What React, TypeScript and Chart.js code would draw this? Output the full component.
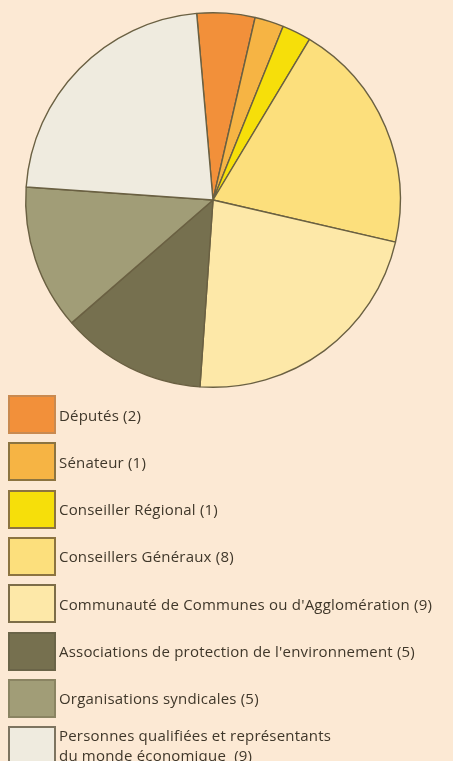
import React, { useEffect, useRef } from "react";
import { Chart, registerables } from "chart.js";

Chart.register(...registerables);

const categories = [
  "Députés (2)",
  "Sénateur (1)",
  "Conseiller Régional (1)",
  "Conseillers Généraux (8)",
  "Communauté de Communes ou d'Agglomération (9)",
  "Associations de protection de l'environnement (5)",
  "Organisations syndicales (5)",
  "Personnes qualifiées et représentants\ndu monde économique  (9)",
];
const seats = [2, 1, 1, 8, 9, 5, 5, 9];
const colors = [
  "#f2903a",
  "#f6b444",
  "#f6df0a",
  "#fcdf7c",
  "#fde8a8",
  "#76704f",
  "#a19d77",
  "#efebdf",
];
const boxBorders = [
  "#c98a50",
  "#8c7440",
  "#8c7440",
  "#8c7440",
  "#7d6d48",
  "#6a6448",
  "#8a8462",
  "#7d7460",
];

const BG = "#fce9d4";

export default function App() {
  const ref = useRef<HTMLCanvasElement | null>(null);
  useEffect(() => {
    document.body.style.margin = "0";
    document.body.style.background = BG;
    const chart = new Chart(ref.current!, {
      type: "pie",
      data: {
        labels: categories,
        datasets: [
          {
            data: seats,
            backgroundColor: colors,
            borderColor: "#6a6042",
            borderWidth: 1.4,
          },
        ],
      },
      options: {
        animation: false,
        responsive: false,
        rotation: -5,
        layout: { padding: { left: 0, right: 27, top: 12, bottom: 12 } },
        plugins: { legend: { display: false }, tooltip: { enabled: false } },
      },
    });
    return () => chart.destroy();
  }, []);

  return (
    <div style={{ position: "relative", width: 453, height: 761, background: BG, overflow: "hidden" }}>
      <canvas ref={ref} width={453} height={400} style={{ position: "absolute", left: 0, top: 0, width: 453, height: 400 }} />
      {categories.map((c, i) => {
        const top = 395 + i * 47.3;
        const lines = c.split("\n");
        return (
          <div key={i}>
            <div
              style={{
                position: "absolute",
                left: 8,
                top,
                width: 44,
                height: 35,
                background: colors[i],
                border: `2px solid ${boxBorders[i]}`,
                boxSizing: "content-box",
              }}
            />
            <div
              style={{
                position: "absolute",
                left: 59,
                top: lines.length > 1 ? top - 1 : top,
                height: lines.length > 1 ? undefined : 39,
                display: "flex",
                flexDirection: "column",
                justifyContent: "center",
                fontFamily: "'Open Sans', sans-serif",
                fontSize: 15,
                letterSpacing: "0.2px",
                lineHeight: "20px",
                color: "#3f372a",
                whiteSpace: "pre",
              }}
            >
              {lines.map((l, j) => (
                <span key={j}>{l}</span>
              ))}
            </div>
          </div>
        );
      })}
    </div>
  );
}
